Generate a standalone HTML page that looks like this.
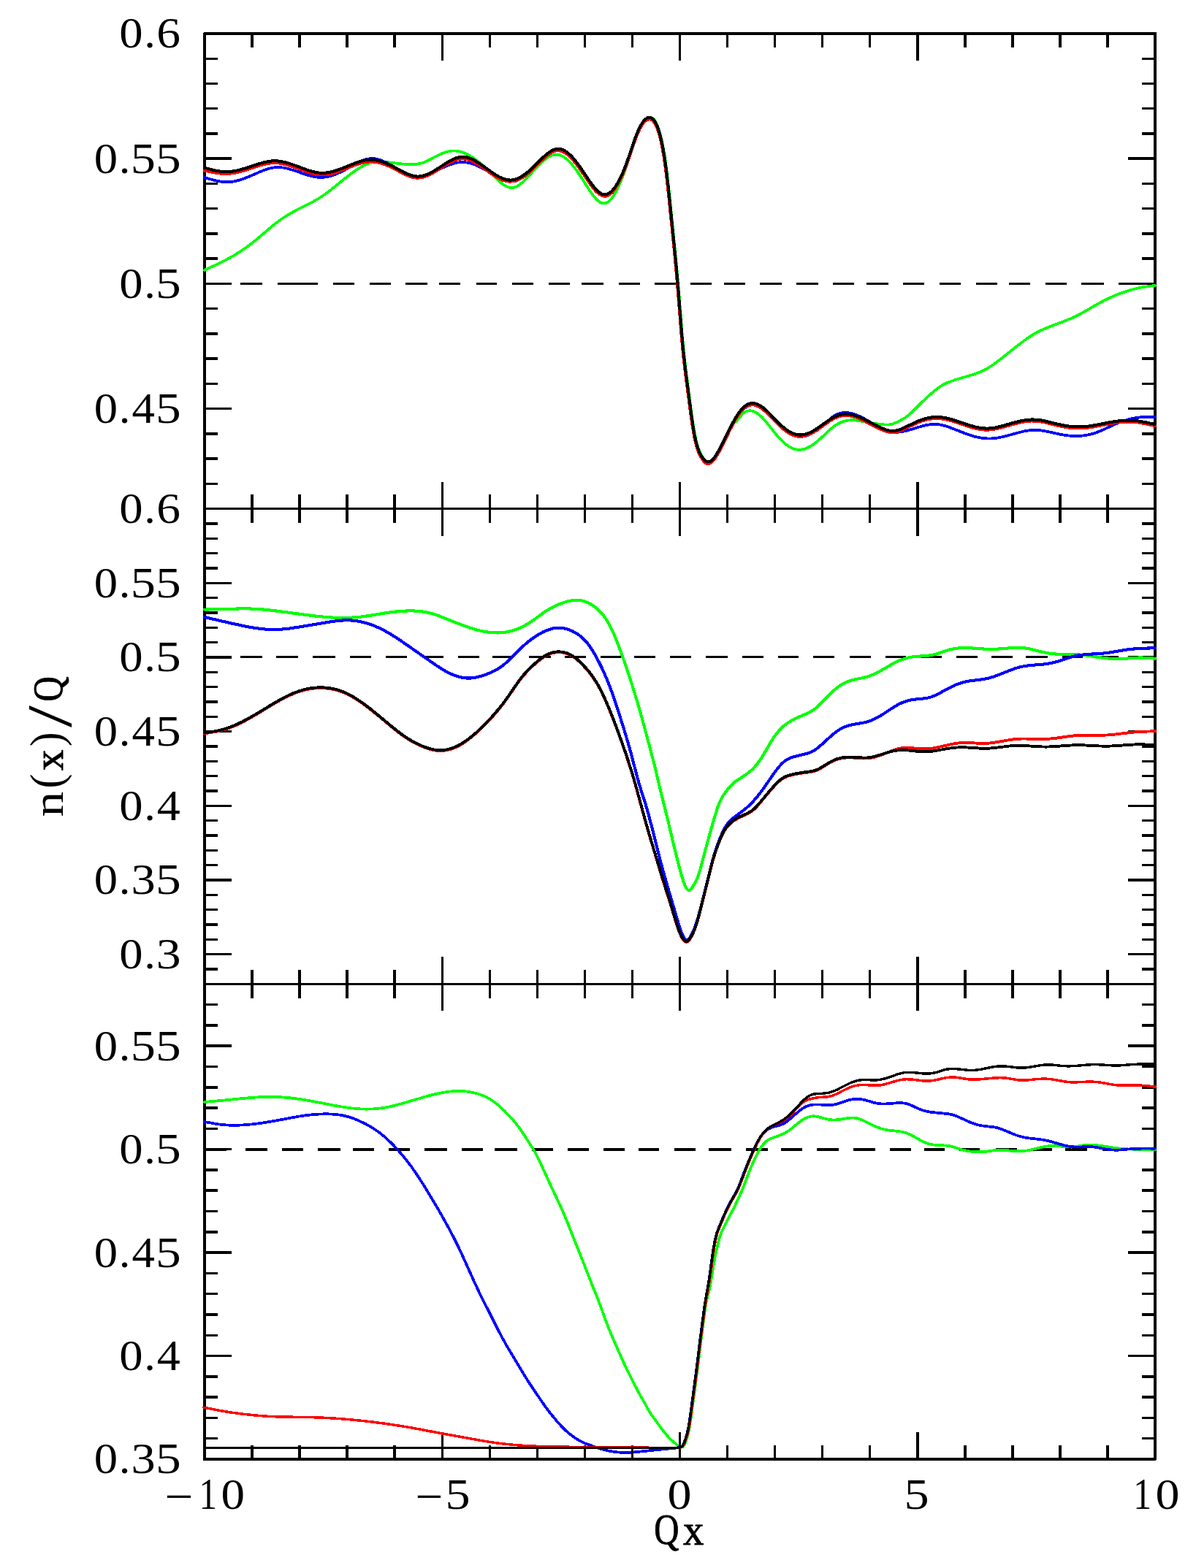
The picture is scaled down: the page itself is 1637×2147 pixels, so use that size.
<!DOCTYPE html>
<html lang="en"><head><meta charset="utf-8"><title>n(x)/Q versus Qx</title>
<style>html,body{margin:0;padding:0;background:#fff;overflow:hidden}svg{display:block}text{font-family:"Liberation Serif","DejaVu Serif",serif;fill:#000}</style></head><body>
<svg width="1637" height="2147" viewBox="0 0 1637 2147">
<rect width="1637" height="2147" fill="#fff"/>
<g fill="none" stroke="#000" shape-rendering="crispEdges">
<path d="M280 46 L317 46 M1544 46 L1581 46 M280 80.25 L298 80.25 M1563 80.25 L1581 80.25 M280 114.49 L298 114.49 M1563 114.49 L1581 114.49 M280 148.74 L298 148.74 M1563 148.74 L1581 148.74 M280 182.98 L298 182.98 M1563 182.98 L1581 182.98 M280 217.23 L317 217.23 M1544 217.23 L1581 217.23 M280 251.47 L298 251.47 M1563 251.47 L1581 251.47 M280 285.72 L298 285.72 M1563 285.72 L1581 285.72 M280 319.96 L298 319.96 M1563 319.96 L1581 319.96 M280 354.21 L298 354.21 M1563 354.21 L1581 354.21 M280 388.46 L317 388.46 M1544 388.46 L1581 388.46 M280 422.7 L298 422.7 M1563 422.7 L1581 422.7 M280 456.95 L298 456.95 M1563 456.95 L1581 456.95 M280 491.19 L298 491.19 M1563 491.19 L1581 491.19 M280 525.44 L298 525.44 M1563 525.44 L1581 525.44 M280 559.68 L317 559.68 M1544 559.68 L1581 559.68 M280 593.93 L298 593.93 M1563 593.93 L1581 593.93 M280 628.18 L298 628.18 M1563 628.18 L1581 628.18 M280 662.42 L298 662.42 M1563 662.42 L1581 662.42 M280 696.67 L298 696.67 M1563 696.67 L1581 696.67 M280 696.67 L317 696.67 M1544 696.67 L1581 696.67 M280 717 L298 717 M1563 717 L1581 717 M280 737.33 L298 737.33 M1563 737.33 L1581 737.33 M280 757.67 L298 757.67 M1563 757.67 L1581 757.67 M280 778 L298 778 M1563 778 L1581 778 M280 798.33 L317 798.33 M1544 798.33 L1581 798.33 M280 818.67 L298 818.67 M1563 818.67 L1581 818.67 M280 839 L298 839 M1563 839 L1581 839 M280 859.33 L298 859.33 M1563 859.33 L1581 859.33 M280 879.67 L298 879.67 M1563 879.67 L1581 879.67 M280 900 L317 900 M1544 900 L1581 900 M280 920.33 L298 920.33 M1563 920.33 L1581 920.33 M280 940.67 L298 940.67 M1563 940.67 L1581 940.67 M280 961 L298 961 M1563 961 L1581 961 M280 981.33 L298 981.33 M1563 981.33 L1581 981.33 M280 1001.67 L317 1001.67 M1544 1001.67 L1581 1001.67 M280 1022 L298 1022 M1563 1022 L1581 1022 M280 1042.33 L298 1042.33 M1563 1042.33 L1581 1042.33 M280 1062.67 L298 1062.67 M1563 1062.67 L1581 1062.67 M280 1083 L298 1083 M1563 1083 L1581 1083 M280 1103.33 L317 1103.33 M1544 1103.33 L1581 1103.33 M280 1123.67 L298 1123.67 M1563 1123.67 L1581 1123.67 M280 1144 L298 1144 M1563 1144 L1581 1144 M280 1164.33 L298 1164.33 M1563 1164.33 L1581 1164.33 M280 1184.67 L298 1184.67 M1563 1184.67 L1581 1184.67 M280 1205 L317 1205 M1544 1205 L1581 1205 M280 1225.33 L298 1225.33 M1563 1225.33 L1581 1225.33 M280 1245.67 L298 1245.67 M1563 1245.67 L1581 1245.67 M280 1266 L298 1266 M1563 1266 L1581 1266 M280 1286.33 L298 1286.33 M1563 1286.33 L1581 1286.33 M280 1306.67 L317 1306.67 M1544 1306.67 L1581 1306.67 M280 1327 L298 1327 M1563 1327 L1581 1327 M280 1347.33 L298 1347.33 M1563 1347.33 L1581 1347.33 M280 1347.33 L298 1347.33 M1563 1347.33 L1581 1347.33 M280 1375.62 L298 1375.62 M1563 1375.62 L1581 1375.62 M280 1403.91 L298 1403.91 M1563 1403.91 L1581 1403.91 M280 1432.2 L317 1432.2 M1544 1432.2 L1581 1432.2 M280 1460.49 L298 1460.49 M1563 1460.49 L1581 1460.49 M280 1488.78 L298 1488.78 M1563 1488.78 L1581 1488.78 M280 1517.07 L298 1517.07 M1563 1517.07 L1581 1517.07 M280 1545.36 L298 1545.36 M1563 1545.36 L1581 1545.36 M280 1573.65 L317 1573.65 M1544 1573.65 L1581 1573.65 M280 1601.94 L298 1601.94 M1563 1601.94 L1581 1601.94 M280 1630.23 L298 1630.23 M1563 1630.23 L1581 1630.23 M280 1658.52 L298 1658.52 M1563 1658.52 L1581 1658.52 M280 1686.81 L298 1686.81 M1563 1686.81 L1581 1686.81 M280 1715.1 L317 1715.1 M1544 1715.1 L1581 1715.1 M280 1743.39 L298 1743.39 M1563 1743.39 L1581 1743.39 M280 1771.68 L298 1771.68 M1563 1771.68 L1581 1771.68 M280 1799.97 L298 1799.97 M1563 1799.97 L1581 1799.97 M280 1828.26 L298 1828.26 M1563 1828.26 L1581 1828.26 M280 1856.55 L317 1856.55 M1544 1856.55 L1581 1856.55 M280 1884.84 L298 1884.84 M1563 1884.84 L1581 1884.84 M280 1913.13 L298 1913.13 M1563 1913.13 L1581 1913.13 M280 1941.42 L298 1941.42 M1563 1941.42 L1581 1941.42 M280 1969.71 L298 1969.71 M1563 1969.71 L1581 1969.71 M280 1998 L317 1998 M1544 1998 L1581 1998 M345.05 46 L345.05 65.3 M410.1 46 L410.1 65.3 M475.15 46 L475.15 65.3 M540.2 46 L540.2 65.3 M605.25 46 L605.25 83 M670.3 46 L670.3 65.3 M735.35 46 L735.35 65.3 M800.4 46 L800.4 65.3 M865.45 46 L865.45 65.3 M930.5 46 L930.5 83 M995.55 46 L995.55 65.3 M1060.6 46 L1060.6 65.3 M1125.65 46 L1125.65 65.3 M1190.7 46 L1190.7 65.3 M1255.75 46 L1255.75 83 M1320.8 46 L1320.8 65.3 M1385.85 46 L1385.85 65.3 M1450.9 46 L1450.9 65.3 M1515.95 46 L1515.95 65.3 M345.05 677.37 L345.05 715.97 M410.1 677.37 L410.1 715.97 M475.15 677.37 L475.15 715.97 M540.2 677.37 L540.2 715.97 M605.25 659.67 L605.25 733.67 M670.3 677.37 L670.3 715.97 M735.35 677.37 L735.35 715.97 M800.4 677.37 L800.4 715.97 M865.45 677.37 L865.45 715.97 M930.5 659.67 L930.5 733.67 M995.55 677.37 L995.55 715.97 M1060.6 677.37 L1060.6 715.97 M1125.65 677.37 L1125.65 715.97 M1190.7 677.37 L1190.7 715.97 M1255.75 659.67 L1255.75 733.67 M1320.8 677.37 L1320.8 715.97 M1385.85 677.37 L1385.85 715.97 M1450.9 677.37 L1450.9 715.97 M1515.95 677.37 L1515.95 715.97 M345.05 1328.03 L345.05 1366.63 M410.1 1328.03 L410.1 1366.63 M475.15 1328.03 L475.15 1366.63 M540.2 1328.03 L540.2 1366.63 M605.25 1310.33 L605.25 1384.33 M670.3 1328.03 L670.3 1366.63 M735.35 1328.03 L735.35 1366.63 M800.4 1328.03 L800.4 1366.63 M865.45 1328.03 L865.45 1366.63 M930.5 1310.33 L930.5 1384.33 M995.55 1328.03 L995.55 1366.63 M1060.6 1328.03 L1060.6 1366.63 M1125.65 1328.03 L1125.65 1366.63 M1190.7 1328.03 L1190.7 1366.63 M1255.75 1310.33 L1255.75 1384.33 M1320.8 1328.03 L1320.8 1366.63 M1385.85 1328.03 L1385.85 1366.63 M1450.9 1328.03 L1450.9 1366.63 M1515.95 1328.03 L1515.95 1366.63 M345.05 1978.7 L345.05 1998 M410.1 1978.7 L410.1 1998 M475.15 1978.7 L475.15 1998 M540.2 1978.7 L540.2 1998 M605.25 1961 L605.25 1998 M670.3 1978.7 L670.3 1998 M735.35 1978.7 L735.35 1998 M800.4 1978.7 L800.4 1998 M865.45 1978.7 L865.45 1998 M930.5 1961 L930.5 1998 M995.55 1978.7 L995.55 1998 M1060.6 1978.7 L1060.6 1998 M1125.65 1978.7 L1125.65 1998 M1190.7 1978.7 L1190.7 1998 M1255.75 1961 L1255.75 1998 M1320.8 1978.7 L1320.8 1998 M1385.85 1978.7 L1385.85 1998 M1450.9 1978.7 L1450.9 1998 M1515.95 1978.7 L1515.95 1998" stroke-width="3.5"/>
<path d="M280 696.67 L1581 696.67 M280 1347.33 L1581 1347.33" stroke-width="3.4"/>
<rect x="280" y="46" width="1301" height="1952" stroke-width="4" stroke-linejoin="round"/>
</g>
<path d="M280 388.3 L309 388.3 M329.3 388.3 L358.7 388.3 M379.7 388.3 L434.5 388.3 M455.5 388.3 L484.9 388.3 M505.9 388.3 L535.3 388.3 M555.4 388.3 L584.5 388.3 M601.4 388.3 L630 388.3 M651.8 388.3 L680.4 388.3 M701.4 388.3 L729.6 388.3 M750.6 388.3 L780 388.3 M796.1 388.3 L825.6 388.3 M846.5 388.3 L876 388.3 M896.1 388.3 L925.2 388.3 M945.3 388.3 L974.3 388.3 M990.5 388.3 L1019.9 388.3 M1039.7 388.3 L1069.9 388.3 M1090 388.3 L1119.5 388.3 M1139.7 388.3 L1169.1 388.3 M1186 388.3 L1215.5 388.3 M1235.6 388.3 L1264.6 388.3 M1286 388.3 L1315 388.3 M1336 388.3 L1364.6 388.3 M1380.7 388.3 L1409.8 388.3 M1431.1 388.3 L1460.2 388.3 M1480.3 388.3 L1510.6 388.3 M1530.7 388.3 L1581 388.3" fill="none" stroke="#000" stroke-width="3.2" shape-rendering="crispEdges"/>
<g fill="none" stroke-linejoin="round" stroke-linecap="round" shape-rendering="crispEdges">
<path d="M280 369.8 L295.75 362.57 L307.25 356.9 L317.5 351.33 L327.25 345.44 L336.25 339.39 L344.75 333.08 L352.5 326.78 L367.75 313.7 L374.25 308.29 L380.75 303.24 L387.25 298.67 L393.75 294.53 L401 290.32 L409 286.04 L428.75 276 L434.75 272.62 L440 269.34 L445.75 265.36 L452 260.65 L472.25 244.28 L479.25 238.8 L485.75 234.07 L491.5 230.3 L497.25 227.03 L502.5 224.59 L507.5 222.83 L512.25 221.74 L515 221.39 L517.75 221.22 L520.75 221.21 L524 221.37 L529.25 221.89 L546.75 224.13 L557 224.98 L564.5 225.1 L570.5 224.68 L573.5 224.2 L576.25 223.57 L579 222.74 L581.75 221.71 L587.25 219.18 L597.5 213.81 L601.75 211.72 L606.25 209.78 L610.5 208.3 L615 207.17 L619.5 206.57 L623.5 206.55 L627.75 207.09 L632.5 208.32 L637.5 210.27 L642.75 212.98 L648.25 216.44 L655 221.46 L662 227.42 L669 234.02 L681.25 246.29 L684.5 249.26 L687.25 251.53 L691 254.13 L694.5 255.9 L696.25 256.51 L697.75 256.87 L699.25 257.07 L700.75 257.09 L702.25 256.93 L704 256.55 L707.25 255.28 L710.75 253.22 L714.5 250.34 L717.75 247.39 L721.25 243.86 L733.5 230.36 L738.5 225.12 L743.5 220.43 L748 216.86 L750.25 215.37 L752.25 214.23 L754.5 213.17 L756.5 212.45 L758.5 211.95 L760.5 211.68 L762.5 211.67 L764.25 211.87 L766.25 212.36 L768.5 213.21 L770.75 214.38 L773 215.84 L775.25 217.57 L777.75 219.8 L780.25 222.33 L782.75 225.12 L787.25 230.75 L792.25 237.76 L796.5 244.22 L805.5 258.48 L809.25 264.07 L813 269.08 L816.25 272.76 L818 274.43 L819.75 275.84 L821.5 276.98 L823 277.71 L824.75 278.26 L826.25 278.46 L827.75 278.38 L829.25 278.02 L831.25 277.1 L833.5 275.49 L835.5 273.57 L837.75 270.89 L840 267.68 L842.25 263.96 L844.5 259.77 L847 254.58 L851.25 244.57 L855.5 233.23 L859 223.01 L866.75 199.27 L870.25 189.28 L873.75 180.54 L877 173.85 L878.75 170.83 L880.75 167.89 L882.75 165.47 L884.75 163.59 L886.75 162.24 L888.75 161.43 L890.5 161.19 L892.25 161.52 L893.75 162.37 L895 163.54 L896.25 165.1 L897.75 167.5 L899 169.95 L900.25 172.87 L901.5 176.27 L902.75 180.17 L905.25 189.63 L907.5 200.24 L909.75 213.12 L911.75 226.76 L914 244.78 L916.25 265.25 L925.75 359.94 L928.75 393.93 L933.75 457.02 L936.5 486.41 L939 507.97 L944.75 551.97 L947.5 572.35 L949.75 587.27 L951.5 597.02 L953.5 605.92 L955.5 612.72 L957.75 618.51 L959.25 621.61 L961 624.74 L962.5 627.04 L964 628.95 L965.5 630.48 L967 631.59 L968.5 632.27 L970 632.5 L971.25 632.35 L972.5 631.9 L973.75 631.17 L975 630.19 L976.25 628.98 L977.75 627.25 L981 622.64 L984 617.62 L987.25 611.63 L991.5 603.21 L1000.5 584.69 L1001.5 582.86 L1002.5 581.37 L1004.25 579.47 L1007.75 576.72 L1009.25 575.28 L1015 568.36 L1017 566.2 L1019.25 564.38 L1021.75 563.07 L1023.5 562.56 L1025.5 562.31 L1027.5 562.36 L1029.5 562.69 L1031.5 563.29 L1033.5 564.15 L1035.5 565.26 L1037.75 566.81 L1041.5 570.04 L1045.5 574.22 L1049.5 578.91 L1059.25 591.05 L1064 596.74 L1068.75 602 L1073 606.16 L1075.5 608.3 L1077.75 610.01 L1080.25 611.65 L1082.5 612.9 L1085 614.02 L1087.25 614.8 L1089.75 615.41 L1092 615.72 L1094 615.81 L1096.25 615.7 L1098.5 615.36 L1100.75 614.83 L1103 614.09 L1105.5 613.06 L1107.75 611.94 L1110.25 610.5 L1114.75 607.44 L1119.5 603.63 L1123.75 599.81 L1135 589.16 L1138.5 586.12 L1141.5 583.76 L1145 581.39 L1148.75 579.31 L1152.25 577.78 L1156 576.56 L1159 575.88 L1162.25 575.43 L1165.5 575.25 L1169 575.34 L1172.25 575.63 L1176 576.15 L1188.75 578.5 L1196 579.69 L1202.5 580.57 L1209 581.3 L1212.75 581.57 L1216 581.56 L1219 581.2 L1221.75 580.52 L1225.75 579.01 L1230.75 576.54 L1238 572.49 L1242 569.73 L1244.5 567.65 L1247.25 565.14 L1261 551.49 L1271.75 541.51 L1276.75 537.12 L1281 533.6 L1284.75 530.75 L1288 528.55 L1290.75 526.92 L1293.75 525.35 L1296.75 523.99 L1300.25 522.59 L1309 519.65 L1328.75 513.77 L1336 511.44 L1343.5 508.51 L1347 506.88 L1350.25 505.16 L1356.5 501.3 L1364 495.95 L1372.25 489.57 L1393 473.08 L1403.5 465.13 L1411.5 459.63 L1415.25 457.33 L1418.75 455.39 L1425 452.34 L1433.25 448.79 L1443.75 444.6 L1461.75 437.78 L1466.75 435.72 L1471 433.8 L1475.75 431.44 L1481 428.61 L1501 417.08 L1510.25 412.02 L1519.5 407.46 L1529 403.39 L1535.5 400.93 L1542 398.72 L1548.25 396.83 L1554.25 395.26 L1559.75 394.05 L1565.5 393.01 L1572 392.04 L1581 390.9" stroke="#00ff00" stroke-width="3.75"/>
<path d="M280 242.9 L287.25 245.14 L292.5 246.61 L297.25 247.75 L301.5 248.55 L305.75 249.08 L309.75 249.31 L313.5 249.23 L317.5 248.83 L321.25 248.19 L325 247.32 L329 246.17 L333.25 244.75 L341.25 241.61 L358 234.36 L362 232.81 L365.75 231.53 L369.5 230.46 L373.25 229.66 L376.75 229.18 L380.25 229.01 L383.75 229.14 L387.25 229.53 L391 230.19 L395 231.14 L402.5 233.4 L419.75 239.33 L424.25 240.65 L428.5 241.68 L432.5 242.4 L436.5 242.82 L440.25 242.89 L444 242.62 L448.25 241.95 L452.75 240.85 L457.5 239.3 L462.5 237.29 L467 235.21 L471.75 232.77 L489.25 223.02 L493 221.19 L496.5 219.7 L500 218.48 L503.25 217.64 L506.5 217.13 L509.5 216.99 L512.5 217.19 L515.75 217.75 L519.25 218.7 L522.75 219.96 L526.5 221.6 L530.75 223.74 L548.25 233.75 L552.25 235.87 L555.75 237.54 L560 239.27 L563.75 240.45 L567.25 241.21 L570.75 241.58 L574 241.54 L577.5 241.12 L581.25 240.28 L585.25 239.02 L592.25 236.16 L605.25 229.95 L610.75 227.48 L616 225.41 L621 223.8 L626 222.65 L630.5 222.09 L634.75 222.04 L639.25 222.52 L643.25 223.35 L647.25 224.53 L651.5 226.12 L655.75 228.01 L659.75 230.02 L664 232.35 L680.25 241.92 L684.25 244 L688 245.69 L691.75 247.06 L695.5 248.02 L699 248.5 L702.25 248.5 L704.25 248.22 L706 247.77 L710.25 246.03 L714.75 243.54 L719.75 240.06 L724 236.62 L728.5 232.57 L741.25 219.92 L745.25 216.12 L749 212.89 L752.25 210.47 L755.5 208.5 L758.75 207.06 L761.75 206.28 L764.75 206.12 L766.5 206.32 L768.5 206.8 L770.25 207.44 L772.25 208.4 L774.25 209.59 L776.25 211.01 L778.25 212.63 L780.5 214.69 L783 217.24 L785.5 220.04 L790.75 226.62 L796.25 234.32 L808.5 252.5 L812 257.2 L815.25 261.07 L817.25 263.15 L819.25 264.96 L821 266.29 L822.75 267.36 L824.5 268.16 L826 268.59 L827.75 268.8 L829.25 268.71 L831.5 268.11 L833.75 266.97 L836 265.3 L838.5 262.85 L840.75 260.12 L843.25 256.54 L845.75 252.38 L848.25 247.68 L852.5 238.51 L856.75 227.94 L860.5 217.53 L868 195.43 L871.5 185.95 L874.5 178.93 L877.5 173.16 L879.25 170.38 L880.75 168.35 L882.5 166.4 L884 165.09 L885.75 163.98 L887.25 163.41 L889 163.18 L890.5 163.39 L892 164 L893.25 164.86 L894.5 166.07 L895.75 167.65 L897 169.63 L898.25 172.04 L900.5 177.53 L902.75 184.63 L905 193.54 L907 203.15 L909 214.59 L911.75 233.71 L914.25 254.66 L917.25 283.15 L923.75 347.83 L927.75 391.61 L933.25 460.64 L936 489.61 L938.75 513.17 L946.25 570.1 L948.5 585.6 L950.5 597.29 L952.5 606.7 L954.5 613.92 L955.75 617.51 L957 620.57 L958.5 623.76 L960 626.49 L961.75 629.21 L963.25 631.17 L965 632.96 L966.5 634.05 L968 634.7 L969.5 634.9 L971 634.65 L972.5 633.98 L974 632.93 L975.75 631.27 L977.5 629.2 L979.5 626.42 L982.75 621.16 L986.75 613.84 L999.25 588.55 L1004 579.41 L1008.5 571.7 L1010.75 568.31 L1012.75 565.61 L1014.75 563.19 L1016.75 561.07 L1018.75 559.24 L1020.75 557.7 L1022.75 556.46 L1024.75 555.5 L1026.75 554.84 L1028.75 554.48 L1030.5 554.4 L1032.25 554.55 L1034 554.9 L1035.75 555.45 L1037.5 556.19 L1039.5 557.23 L1041.5 558.47 L1043.75 560.07 L1047.25 562.95 L1051.25 566.66 L1064.5 580.26 L1069.25 584.88 L1073.75 588.78 L1078.25 592.08 L1082.5 594.59 L1086.5 596.35 L1090.5 597.49 L1092.5 597.81 L1094.5 597.95 L1096.5 597.93 L1098.5 597.74 L1102.75 596.85 L1107.25 595.25 L1112 592.95 L1118 589.35 L1122.25 586.36 L1126.25 582.96 L1136.25 573.71 L1139.25 571.24 L1141.75 569.46 L1145 567.62 L1148.25 566.31 L1151.75 565.42 L1155.25 565.01 L1159.25 565.07 L1163.5 565.66 L1168 566.8 L1172.75 568.48 L1177.25 570.45 L1182 572.82 L1199.5 582.69 L1206.75 586.42 L1210.5 588.08 L1214 589.4 L1217.5 590.46 L1220.75 591.17 L1224 591.6 L1227.5 591.73 L1231.25 591.53 L1235 591.03 L1238.75 590.29 L1243 589.23 L1259.5 584.2 L1266.75 582.34 L1270.75 581.6 L1274.75 581.11 L1278.5 580.92 L1282 581.01 L1285.25 581.35 L1288.75 581.97 L1292.25 582.8 L1296.25 583.98 L1303.25 586.47 L1321.5 593.71 L1327.25 595.71 L1332.75 597.37 L1338 598.67 L1343.25 599.66 L1348.25 600.26 L1353 600.5 L1356.5 600.44 L1360.25 600.17 L1364 599.71 L1368 599.04 L1376.75 597.08 L1393.75 592.41 L1400.75 590.7 L1408.25 589.37 L1411.5 589.01 L1414.75 588.82 L1417.75 588.82 L1421 588.98 L1427.75 589.8 L1434.25 591.03 L1451.5 594.8 L1457 595.75 L1462.25 596.44 L1467.75 596.9 L1473 597.04 L1478.25 596.86 L1483.25 596.37 L1488 595.62 L1492.5 594.64 L1497 593.42 L1501.5 591.93 L1509.25 588.8 L1524.25 581.79 L1530.75 578.98 L1538.5 576.1 L1545.75 573.95 L1549.75 573.01 L1553.75 572.26 L1557.75 571.69 L1561.75 571.29 L1570 570.98 L1581 571.2" stroke="#0000ff" stroke-width="3.8"/>
<path d="M280 233.64 L291.5 236.07 L296.25 236.87 L300.5 237.42 L304.5 237.76 L308.5 237.9 L312.25 237.84 L316 237.56 L319.5 237.09 L323 236.46 L330.5 234.66 L337.75 232.48 L354 227.11 L362 224.91 L366.25 224.02 L370 223.46 L373.75 223.15 L377.25 223.13 L381 223.4 L385 223.96 L389.25 224.83 L393.75 226.01 L402.25 228.77 L420 235.32 L424.25 236.69 L428.25 237.79 L432.25 238.65 L436 239.19 L439.5 239.43 L443.5 239.38 L447.25 239.04 L451.25 238.38 L455.25 237.46 L459.75 236.16 L468 233.24 L485.75 226.12 L490 224.62 L494 223.4 L497.75 222.47 L501.5 221.81 L505 221.46 L508.5 221.41 L512.5 221.74 L516.5 222.39 L520.75 223.4 L525 224.72 L530.5 226.81 L536.5 229.5 L539.5 231 L552 237.77 L555.75 239.59 L559 240.96 L562.75 242.26 L566.25 243.11 L569.5 243.54 L573 243.58 L576.5 243.19 L580 242.39 L583.75 241.13 L588 239.26 L591.25 237.58 L595 235.43 L607.5 227.56 L612.75 224.39 L617 222.06 L620.75 220.29 L624.25 218.94 L627.5 218.01 L630.75 217.44 L633.75 217.31 L637.5 217.75 L641.25 218.72 L645.25 220.26 L649.5 222.37 L653.25 224.57 L657.5 227.33 L671 236.93 L675.75 240.15 L680.25 242.92 L684.5 245.15 L688.5 246.83 L692.5 248 L696 248.53 L699.75 248.57 L703.5 248.04 L707.5 246.84 L711.75 244.92 L716 242.41 L721 238.82 L726.25 234.42 L731.5 229.54 L743.75 217.49 L747.25 214.36 L750.5 211.77 L754.5 209.12 L758 207.42 L761.25 206.47 L763 206.24 L764.5 206.22 L766.25 206.45 L768.25 206.97 L770 207.63 L772 208.61 L774 209.83 L776 211.26 L778 212.9 L780.25 214.98 L782.75 217.54 L785.25 220.35 L790.5 226.94 L795.75 234.27 L808 252.37 L811.5 257.05 L814.75 260.91 L816.75 262.98 L818.75 264.78 L820.5 266.11 L822.25 267.18 L824 267.97 L825.5 268.41 L827 268.61 L829 268.55 L831 268.1 L833 267.22 L835 265.92 L837 264.21 L839 262.11 L841 259.63 L843 256.77 L845.25 253.12 L847.5 249.02 L850 243.97 L852.5 238.42 L855 232.38 L859.5 220.36 L869.75 190.59 L872.75 182.93 L875.5 176.94 L877.5 173.23 L879.25 170.46 L881 168.13 L882.75 166.25 L884.75 164.65 L886.5 163.75 L888.5 163.29 L890 163.45 L891.5 164.02 L892.75 164.84 L894 165.99 L895.25 167.5 L896.5 169.4 L897.75 171.73 L899 174.49 L900 177.08 L902.25 184.2 L904.5 193.1 L906.5 202.7 L908.5 214.13 L911.25 233.2 L914 256.48 L916.75 282.73 L923.75 352.63 L926.75 385.02 L932.5 457.37 L934 474.46 L935.25 487.04 L938.25 512.81 L945.75 569.73 L948 585.24 L950 597.05 L951.75 605.36 L953.75 612.76 L955 616.48 L956.25 619.63 L958 623.4 L959.75 626.69 L961.5 629.48 L963 631.45 L964.5 633 L966 634.13 L967.25 634.73 L968.5 635 L970 634.97 L971.5 634.57 L972.75 633.93 L974.25 632.82 L975.75 631.36 L977.25 629.61 L979 627.23 L980.75 624.56 L984.75 617.64 L989 609.46 L998.5 590.01 L1002.5 582.14 L1006.75 574.46 L1010.5 568.54 L1013 565.15 L1015.25 562.48 L1017.75 559.95 L1020 558.07 L1022.5 556.41 L1024.75 555.31 L1027 554.59 L1029.25 554.23 L1030.75 554.23 L1032.5 554.47 L1034.25 554.91 L1036 555.54 L1037.75 556.35 L1039.75 557.47 L1043.75 560.25 L1047.25 563.19 L1051 566.7 L1063.75 579.8 L1068.5 584.45 L1073 588.38 L1077.25 591.55 L1081.5 594.13 L1085.5 595.97 L1089.5 597.18 L1091.5 597.55 L1093.5 597.74 L1097.25 597.67 L1100.75 597.14 L1104.5 596.08 L1108.25 594.59 L1112.5 592.43 L1117.25 589.56 L1121.75 586.5 L1134 577.71 L1137.75 575.29 L1141 573.44 L1145.25 571.47 L1149.25 570.13 L1153.25 569.27 L1157.25 568.91 L1160.75 569.04 L1164.5 569.58 L1168.5 570.54 L1172.5 571.84 L1176.75 573.53 L1181.5 575.7 L1199.5 585.01 L1207 588.49 L1211 590.04 L1214.5 591.1 L1217.75 591.77 L1220.75 592.04 L1223.5 591.99 L1226 591.67 L1229 590.95 L1232 589.95 L1237.25 587.71 L1254.25 579.58 L1259.25 577.5 L1263.75 575.92 L1268.25 574.68 L1272.5 573.81 L1276.75 573.24 L1281 572.99 L1284.5 573.04 L1288.25 573.35 L1292.25 573.93 L1296.25 574.75 L1300.5 575.83 L1305 577.16 L1323.75 583.43 L1332 585.88 L1336.5 586.96 L1340.75 587.78 L1344.75 588.31 L1348.75 588.59 L1352.25 588.6 L1355.5 588.42 L1359 588.02 L1362.5 587.44 L1370.25 585.66 L1387.5 580.73 L1395.75 578.66 L1400.25 577.76 L1404.5 577.09 L1408.5 576.67 L1412.25 576.47 L1418 576.65 L1424.5 577.46 L1431.5 578.85 L1447.5 582.77 L1455 584.35 L1464 585.73 L1472.25 586.38 L1476.5 586.45 L1480.75 586.36 L1485 586.07 L1489.5 585.58 L1498.75 584.15 L1517 580.62 L1525.25 579.2 L1534 578.09 L1541.75 577.58 L1545.5 577.55 L1549.75 577.71 L1554 578.06 L1558.25 578.59 L1567.75 580.22 L1581 583.11" stroke="#ff0000" stroke-width="4"/>
<path d="M280 229.7 L291.75 232.79 L296.25 233.76 L300.25 234.45 L304.25 234.94 L308 235.17 L311.5 235.17 L315.25 234.93 L318.75 234.5 L322.25 233.9 L330 232.07 L337.5 229.82 L354 224.34 L362.25 222.06 L366.5 221.18 L370.5 220.61 L374.25 220.33 L378 220.34 L381.75 220.63 L385.75 221.22 L390 222.12 L394.5 223.33 L402.75 226.05 L420.25 232.59 L424.5 233.99 L428.5 235.11 L432.5 236 L436.25 236.56 L439.75 236.82 L443.25 236.79 L447 236.46 L451 235.82 L455.25 234.85 L459.75 233.54 L468 230.6 L485.75 223.44 L490.25 221.85 L494.25 220.64 L498.25 219.67 L502 219.04 L505.5 218.73 L509 218.72 L512.75 219.04 L516.5 219.68 L520.5 220.67 L524.75 222.04 L529.5 223.9 L534.75 226.31 L539.75 228.87 L552 235.51 L555.5 237.24 L558.75 238.66 L562.75 240.1 L566.25 241.01 L569.75 241.52 L573 241.58 L576.5 241.19 L580.25 240.32 L584.25 238.93 L588.5 237.02 L592.25 235.03 L596.5 232.52 L613.5 221.61 L617.5 219.36 L621.25 217.55 L624.75 216.2 L628 215.3 L631.25 214.79 L634.25 214.72 L638 215.17 L641.75 216.16 L645.75 217.73 L650 219.89 L653.75 222.13 L658 224.94 L671.5 234.7 L676.25 237.99 L680.75 240.8 L684.75 242.95 L688.75 244.69 L692.5 245.86 L696 246.48 L699.5 246.58 L703.25 246.09 L707.25 244.91 L711.5 243.01 L715.75 240.5 L720.75 236.89 L726 232.46 L731.25 227.54 L743.75 215.11 L747.25 211.95 L750.5 209.32 L754.5 206.65 L756.5 205.59 L758.25 204.84 L760 204.26 L761.75 203.88 L763.5 203.71 L765 203.73 L766.75 203.96 L768.75 204.48 L770.5 205.14 L772.5 206.13 L774.5 207.36 L776.5 208.8 L778.5 210.45 L780.75 212.53 L783.25 215.1 L785.75 217.93 L791 224.56 L796.5 232.29 L808.25 249.74 L811.75 254.48 L815 258.39 L817 260.5 L819 262.35 L820.75 263.71 L822.5 264.83 L824.25 265.66 L825.75 266.14 L827.5 266.4 L829 266.35 L831.25 265.81 L833.5 264.72 L835.75 263.11 L838.25 260.72 L840.5 258.05 L843 254.52 L845.5 250.42 L848 245.78 L852.25 236.69 L856.75 225.54 L860.5 215.13 L868 193.04 L871.5 183.55 L874.5 176.53 L877.5 170.76 L879.25 167.98 L880.75 165.95 L882.5 164 L884 162.69 L885.75 161.58 L887.25 161.01 L889 160.78 L890.5 160.99 L892 161.6 L893.25 162.46 L894.5 163.67 L895.75 165.25 L897 167.23 L898.25 169.63 L900.5 175.12 L902.75 182.24 L905 191.14 L907 200.76 L909 212.19 L911.75 231.27 L914.25 252.27 L917.25 280.75 L924 348.1 L927.25 383.1 L933 455.29 L934.25 469.65 L935.75 484.94 L938.75 510.76 L946 565.87 L948.25 581.56 L950.25 593.63 L952.25 603.28 L954.25 610.71 L955.5 614.43 L956.75 617.6 L958.25 620.83 L960 624.07 L961.75 626.82 L963.25 628.78 L964.75 630.34 L966.25 631.5 L967.75 632.22 L969 632.48 L970.25 632.43 L971.5 632.07 L972.75 631.43 L974.25 630.32 L975.75 628.87 L977.25 627.12 L979 624.75 L980.75 622.09 L984.75 615.19 L989.25 606.53 L998.25 588.15 L1002.25 580.28 L1006.5 572.59 L1010.5 566.27 L1013 562.89 L1015.25 560.24 L1017.5 557.95 L1019.75 556.04 L1022.25 554.34 L1024.5 553.21 L1026.75 552.44 L1029 552.06 L1030.75 552.01 L1032.5 552.19 L1034.25 552.57 L1036 553.15 L1037.75 553.91 L1039.75 554.97 L1041.75 556.24 L1044 557.86 L1047.5 560.77 L1051.25 564.26 L1064.25 577.6 L1069 582.25 L1073.5 586.18 L1078 589.52 L1082.25 592.06 L1086.25 593.86 L1090.25 595.03 L1094 595.53 L1097.25 595.48 L1100.75 594.95 L1104.5 593.9 L1108.25 592.41 L1112.5 590.28 L1117.25 587.43 L1121.75 584.39 L1134 575.65 L1137.75 573.25 L1141 571.41 L1145.25 569.45 L1149.25 568.12 L1153.25 567.27 L1157.25 566.91 L1161 567.02 L1164.75 567.54 L1168.75 568.47 L1173 569.84 L1177.25 571.53 L1182 573.7 L1200 583.01 L1207.5 586.49 L1211.5 588.04 L1215 589.1 L1218.25 589.76 L1221.25 590.03 L1223.75 589.97 L1226.5 589.57 L1229.25 588.88 L1232.25 587.86 L1237.25 585.71 L1254.25 577.58 L1259 575.6 L1263.5 574 L1268 572.74 L1272.25 571.85 L1276.5 571.27 L1280.75 571 L1284.5 571.02 L1288.25 571.29 L1292.25 571.85 L1296.5 572.7 L1300.75 573.77 L1305.5 575.16 L1324.25 581.43 L1332.75 583.94 L1337.25 585.02 L1341.5 585.82 L1345.5 586.33 L1349.25 586.58 L1352.5 586.59 L1355.75 586.4 L1359.25 585.99 L1362.75 585.39 L1370.5 583.59 L1387.5 578.73 L1395.75 576.66 L1400.25 575.76 L1404.5 575.09 L1408.5 574.67 L1412.25 574.47 L1418.25 574.63 L1424.75 575.42 L1432 576.85 L1448 580.77 L1455.5 582.35 L1464.5 583.72 L1472.75 584.38 L1477 584.45 L1481 584.35 L1485.25 584.05 L1489.75 583.55 L1498.75 582.15 L1517 578.62 L1525.25 577.2 L1534 576.09 L1541.75 575.58 L1546 575.55 L1550 575.7 L1554.25 576.04 L1558.5 576.55 L1568 578.18 L1581 581" stroke="#000000" stroke-width="4.05"/>
</g>
<path d="M280 899.2 L309 899.2 M329.3 899.2 L358.7 899.2 M378 899.2 L408.3 899.2 M428.4 899.2 L458.7 899.2 M478.8 899.2 L507.9 899.2 M528 899.2 L557 899.2 M578.4 899.2 L606.7 899.2 M626.8 899.2 L655.8 899.2 M674.4 899.2 L703.4 899.2 M723.6 899.2 L753.8 899.2 M773.2 899.2 L802.2 899.2 M822.4 899.2 L850.6 899.2 M867.9 899.2 L896.9 899.2 M917.1 899.2 L946 899.2 M966.3 899.2 L995.7 899.2 M1015.9 899.2 L1044.9 899.2 M1065 899.2 L1093.3 899.2 M1112.6 899.2 L1141.7 899.2 M1163 899.2 L1192 899.2 M1212.2 899.2 L1240.4 899.2 M1260.6 899.2 L1288.8 899.2 M1309 899.2 L1338 899.2 M1357.4 899.2 L1385.6 899.2 M1403.7 899.2 L1434 899.2 M1454 899.2 L1482 899.2 M1502.5 899.2 L1530.7 899.2 M1553 899.2 L1581 899.2" fill="none" stroke="#000" stroke-width="3.2" shape-rendering="crispEdges"/>
<g fill="none" stroke-linejoin="round" stroke-linecap="round" shape-rendering="crispEdges">
<path d="M280 834.6 L329 833.4 L341.25 833.45 L352 833.88 L362.25 834.69 L374.25 836 L421 842.22 L436.75 844.09 L445 844.88 L452.5 845.43 L459.75 845.79 L466.75 845.95 L473.75 845.89 L480.5 845.64 L487.5 845.17 L494.25 844.52 L504.75 843.1 L530.75 838.88 L538.5 837.86 L545.75 837.12 L553 836.62 L559.75 836.41 L566.25 836.46 L572.25 836.78 L578.25 837.43 L583.75 838.35 L589 839.55 L594.75 841.23 L604.5 844.71 L625 852.93 L634.75 856.66 L644 859.87 L652.25 862.34 L660 864.24 L667.5 865.58 L674.5 866.32 L681.25 866.5 L685.5 866.32 L689.5 865.93 L693.5 865.33 L697.5 864.51 L701.5 863.47 L705.5 862.21 L709.5 860.72 L713.25 859.1 L719.25 856.06 L725 852.6 L730.25 848.99 L743.75 839.13 L748.25 836.15 L752.5 833.57 L757.75 830.71 L762.75 828.33 L767.75 826.29 L772.75 824.58 L778.25 823.1 L783.25 822.14 L787.75 821.7 L791.75 821.76 L796 822.36 L800.25 823.5 L804.5 825.18 L808.75 827.38 L812.25 829.61 L815.5 832.05 L818.75 834.87 L821.75 837.84 L824.5 840.94 L827.25 844.47 L830 848.48 L832.5 852.6 L835 857.21 L837.5 862.28 L840.25 868.33 L843 874.83 L849.25 890.96 L856 910.02 L864.75 936.5 L872.25 960.93 L879.5 986.46 L890 1025.26 L897.25 1053.56 L905.5 1088.72 L913.75 1121.52 L923.75 1163.81 L928.5 1182.54 L932 1195.59 L935.25 1206.33 L936.75 1210.52 L938 1213.48 L939.25 1215.87 L940.5 1217.62 L941.75 1218.68 L942.75 1219 L943.75 1218.83 L945 1218.03 L946.25 1216.72 L948 1214.34 L950.25 1210.84 L952 1207.71 L953.5 1204.58 L955 1200.93 L956.75 1195.88 L958.5 1190.05 L966.75 1159.1 L971.75 1140.89 L977.75 1119.99 L981.75 1107.04 L984.25 1100.09 L986.75 1094.51 L989.5 1089.73 L993.75 1083.74 L996.5 1080.21 L999.25 1076.97 L1001.5 1074.6 L1004 1072.29 L1006.5 1070.25 L1009.25 1068.23 L1021.25 1060.24 L1025.25 1057.39 L1029.5 1053.73 L1033.5 1049.54 L1038 1043.94 L1042.25 1037.77 L1046 1031.64 L1055 1016.19 L1059.75 1008.81 L1062.5 1005.05 L1065.25 1001.66 L1068.25 998.35 L1071.25 995.41 L1074.25 992.81 L1077.25 990.52 L1080.5 988.34 L1084 986.27 L1087.5 984.45 L1091.25 982.69 L1106.25 976.28 L1110 974.28 L1113.25 972.17 L1117 969.24 L1121.25 965.41 L1136.5 950.03 L1143 943.96 L1146.25 941.27 L1149.5 938.88 L1152.5 936.98 L1155.75 935.22 L1160.25 933.23 L1165.25 931.54 L1170.25 930.27 L1180.25 928.25 L1184.5 927.27 L1189 925.94 L1193.75 924.18 L1198.75 921.97 L1203.75 919.43 L1219.5 910.22 L1225.5 906.96 L1232 903.97 L1238.25 901.73 L1243.25 900.45 L1249 899.49 L1254.5 898.91 L1268.5 897.88 L1272.5 897.42 L1276.25 896.8 L1279.75 896.02 L1283 895.09 L1295 890.89 L1299.75 889.46 L1305.75 888.19 L1312.25 887.41 L1318.25 887.13 L1325 887.2 L1331.5 887.53 L1348.25 888.67 L1357.75 888.93 L1366.25 888.58 L1386.75 886.9 L1392.25 886.73 L1397.25 886.84 L1402.25 887.28 L1407.5 888.14 L1412.5 889.24 L1428.5 893.17 L1434 894.26 L1438.75 894.97 L1442.75 895.37 L1447.25 895.64 L1467.25 895.92 L1478.25 896.56 L1488.25 897.63 L1508.75 900.65 L1518.25 901.69 L1526.25 902.12 L1534 902.11 L1540 901.8 L1553.75 900.7 L1560.75 900.47 L1569.25 900.75 L1581 901.7" stroke="#00ff00" stroke-width="4.1"/>
<path d="M280 845 L321.5 854.56 L338.75 858.14 L347.5 859.65 L355.75 860.8 L363.25 861.55 L370.5 861.95 L376.75 862.01 L382.75 861.8 L389.25 861.29 L396.5 860.47 L412.75 858.02 L452.25 851.36 L459.5 850.34 L466 849.66 L474 849.28 L481.25 849.5 L488.5 850.31 L496 851.75 L500.5 852.91 L505 854.29 L509.5 855.88 L514 857.67 L518.5 859.66 L523.25 861.97 L528 864.48 L532.75 867.19 L541 872.3 L550.5 878.61 L597.75 911.52 L605 916.17 L611.5 919.91 L615.25 921.81 L619 923.52 L622.5 924.91 L626 926.1 L629.5 927.07 L632.75 927.78 L636.25 928.3 L639.5 928.56 L644 928.54 L648.5 928.09 L653.25 927.21 L658.5 925.81 L664.5 923.78 L671.25 921.06 L676.75 918.48 L681.5 915.84 L684.5 913.93 L687.25 911.99 L690 909.83 L692.75 907.46 L698.25 902.26 L708.5 891.86 L713 887.46 L718.5 882.48 L724 877.93 L730.5 873.1 L737 868.86 L743 865.51 L748.5 863.03 L754 861.19 L756.75 860.53 L759.25 860.09 L762 859.78 L764.5 859.67 L767.25 859.74 L769.75 859.99 L772.25 860.41 L775 861.06 L777.5 861.82 L780.25 862.84 L783 864.04 L785.75 865.43 L791 868.57 L794 870.74 L797 873.25 L799.75 875.9 L802.5 878.93 L805.25 882.36 L808 886.2 L810.75 890.42 L813.75 895.4 L817 901.22 L820.5 907.92 L823.75 914.54 L826.75 921.02 L832.5 934.6 L838.25 949.9 L843 963.74 L848.5 980.71 L855.25 1002.36 L860.25 1019.21 L864.25 1033.61 L871 1059.57 L874 1070.59 L876.75 1079.71 L882.75 1098.04 L887 1112.73 L891.5 1129.87 L902 1171.67 L907.5 1192.18 L911.75 1207.12 L927.5 1260.86 L931.5 1273.39 L933 1277.49 L934.5 1281.06 L936 1283.96 L937.25 1285.75 L938.5 1286.9 L939 1287.16 L939.75 1287.33 L941 1287.04 L942.5 1285.89 L944 1284.02 L945.5 1281.62 L947.5 1277.88 L949.5 1273.6 L951.25 1269.32 L953 1264.45 L955.25 1257.21 L958 1247.14 L966.5 1213.67 L973.5 1185.21 L977.25 1171.45 L980.75 1160.54 L984.75 1149.67 L988.5 1140.75 L991.75 1134.27 L993.75 1130.95 L995.75 1128.12 L998 1125.41 L1000.25 1123.11 L1005.25 1118.85 L1016 1110.84 L1021.25 1106.63 L1026.5 1101.85 L1031.75 1096.38 L1036.75 1090.53 L1042.25 1083.4 L1047.25 1076.43 L1058.5 1060.09 L1064.5 1052.07 L1067.75 1048.21 L1070.75 1045.08 L1073.75 1042.43 L1076.5 1040.48 L1080 1038.59 L1083.75 1037.13 L1087.75 1035.97 L1105 1031.68 L1109.25 1030.19 L1113 1028.36 L1117 1025.76 L1121.25 1022.43 L1125.25 1018.93 L1136.5 1008.66 L1143 1003.24 L1146.25 1000.83 L1149.25 998.84 L1152 997.25 L1155 995.78 L1159 994.23 L1163.5 992.92 L1168.5 991.85 L1178.5 990.2 L1182.75 989.37 L1187 988.28 L1191.5 986.75 L1197.5 984.17 L1203.5 981.01 L1209.25 977.52 L1220.5 970.05 L1225.25 967.04 L1230.25 964.23 L1234.75 962.14 L1240.5 960.09 L1246.75 958.54 L1252.75 957.59 L1263 956.6 L1267 956.09 L1271.25 955.28 L1275 954.21 L1278.75 952.77 L1283 950.78 L1297.5 942.83 L1303.25 939.94 L1309.75 937.16 L1316 935 L1320.75 933.7 L1325.5 932.72 L1330.5 931.97 L1345.5 930.12 L1350 929.31 L1354.5 928.22 L1359.5 926.72 L1365 924.79 L1382 918.05 L1387.5 915.99 L1392.5 914.34 L1397 913.13 L1401.5 912.21 L1406.5 911.47 L1412 910.89 L1428.5 909.49 L1433.75 908.82 L1438.5 908 L1442.75 907.04 L1447 905.86 L1461.25 901.18 L1466 899.74 L1471 898.46 L1476 897.44 L1481.75 896.55 L1487.5 895.93 L1506.25 894.91 L1513.5 894.26 L1520.75 893.22 L1538.75 890.09 L1544.75 889.26 L1550.75 888.6 L1557.25 888.06 L1563.75 887.71 L1581 887.3" stroke="#0000ff" stroke-width="4.1"/>
<path d="M280 1004.4 L294.25 1002 L299.5 1000.91 L304.5 999.69 L309.25 998.33 L313.75 996.83 L318.5 995.01 L323.25 992.99 L332.25 988.67 L342.5 983.12 L352 977.56 L374.25 964.1 L385.25 957.84 L390.75 954.94 L395.75 952.5 L400.5 950.38 L405 948.57 L410 946.82 L415 945.34 L420 944.13 L425 943.2 L430 942.56 L435 942.19 L440 942.1 L444.75 942.29 L450 942.81 L455.25 943.68 L460.25 944.85 L465.25 946.36 L470.25 948.23 L475 950.35 L480 952.92 L485.25 955.96 L490 958.97 L495 962.38 L500.25 966.19 L505.75 970.39 L516.5 979.04 L538.25 997.22 L548.5 1005.23 L553.75 1008.97 L559 1012.4 L564.25 1015.51 L569.75 1018.45 L576 1021.39 L582.25 1023.92 L588 1025.82 L593.25 1027.12 L598.25 1027.88 L603 1028.11 L607.75 1027.82 L612.5 1027.03 L617.75 1025.58 L623.25 1023.46 L628.75 1020.73 L634.5 1017.27 L640.5 1013.08 L646.75 1008.15 L653.5 1002.29 L660.25 995.93 L666.5 989.62 L673 982.62 L679.25 975.48 L685 968.47 L689.5 962.65 L694 956.49 L709.5 934 L713 929.35 L716.5 925.07 L721.25 919.75 L726.5 914.44 L732.5 908.94 L738.5 903.9 L743.75 900.05 L746.25 898.47 L748.75 897.08 L751 896.01 L753.5 895.03 L755.75 894.32 L758.25 893.74 L760.75 893.35 L763.25 893.16 L765.75 893.16 L768.5 893.37 L771 893.76 L773.5 894.34 L776 895.12 L778.5 896.1 L782.25 897.99 L785.75 900.2 L789.5 903.04 L793.25 906.33 L797.5 910.53 L801.75 915.18 L806.25 920.52 L810.25 925.73 L813.25 930.02 L816.25 934.7 L819 939.4 L821.75 944.52 L824.75 950.56 L827.75 957.02 L834.5 972.82 L841.5 990.6 L849.25 1011.57 L856.75 1032.95 L863 1052.09 L866.5 1063.6 L870.5 1077.49 L883.25 1124.29 L888.5 1142.69 L906.75 1203.35 L917.25 1236.52 L924.25 1259.65 L926.75 1267.54 L928.5 1272.62 L930.25 1277.23 L932 1281.27 L933.5 1284.22 L935 1286.65 L936.5 1288.46 L938 1289.58 L939.25 1289.91 L940.5 1289.67 L942 1288.69 L943.5 1287.06 L945.25 1284.5 L947.25 1280.89 L949 1277.22 L950.75 1273.01 L952.5 1268.2 L954.75 1261.04 L957.5 1250.97 L973 1188.66 L975 1181 L977 1173.97 L980.5 1163.19 L984.5 1152.51 L988.25 1143.82 L990 1140.34 L991.5 1137.7 L994 1133.97 L996.75 1130.62 L1000.25 1127.14 L1003.75 1124.31 L1007 1122.14 L1010.5 1120.17 L1021.5 1115.06 L1025.25 1113.12 L1028.75 1110.89 L1032 1108.29 L1035.25 1105.16 L1038.75 1101.35 L1054.75 1082.16 L1058.75 1077.59 L1062.25 1073.84 L1065.75 1070.44 L1069 1067.72 L1072 1065.67 L1075.25 1063.96 L1077.75 1062.95 L1080.25 1062.14 L1087 1060.52 L1096.25 1058.83 L1109.5 1057.05 L1113 1056.33 L1116 1055.46 L1119.25 1054.19 L1122.75 1052.41 L1134.25 1045.31 L1138.75 1042.82 L1144 1040.53 L1146.75 1039.59 L1149.5 1038.83 L1154.75 1037.83 L1160.25 1037.41 L1166.25 1037.46 L1178 1038.17 L1183 1038.33 L1188.25 1038.16 L1192.75 1037.62 L1197.75 1036.53 L1203.5 1034.76 L1208.75 1032.8 L1220 1028.24 L1225.25 1026.37 L1230 1025.07 L1234.25 1024.34 L1238.5 1024.01 L1243 1023.99 L1248 1024.25 L1261.75 1025.33 L1266 1025.44 L1270 1025.3 L1274.75 1024.82 L1279.75 1024.03 L1285.5 1022.85 L1303.5 1018.72 L1309.25 1017.73 L1314.25 1017.16 L1318.25 1016.95 L1322.75 1016.93 L1342.5 1017.85 L1347.25 1017.89 L1351.5 1017.75 L1355.75 1017.39 L1360.5 1016.79 L1382.5 1012.98 L1387.75 1012.26 L1392.5 1011.81 L1397.25 1011.57 L1402.25 1011.49 L1424.75 1011.97 L1434.75 1011.78 L1444 1010.93 L1464.5 1007.98 L1473.75 1007.01 L1483.75 1006.62 L1505.5 1006.76 L1515.25 1006.51 L1525.25 1005.67 L1545.5 1003.18 L1554.25 1002.31 L1565.5 1001.67 L1581 1001.3" stroke="#ff0000" stroke-width="3.9"/>
<path d="M280 1003.6 L294.25 1001.2 L299.5 1000.11 L304.5 998.89 L309.25 997.53 L313.75 996.03 L318.5 994.21 L323.25 992.19 L332.25 987.87 L342.5 982.32 L352 976.76 L374.25 963.3 L385.25 957.04 L390.75 954.14 L395.75 951.7 L400.5 949.58 L405 947.77 L410 946.02 L415 944.54 L420 943.33 L425 942.4 L430 941.76 L435 941.39 L440 941.3 L444.75 941.49 L450 942.01 L455.25 942.88 L460.25 944.05 L465.25 945.56 L470.25 947.43 L475 949.55 L480 952.12 L485.25 955.16 L490 958.17 L495 961.58 L500.25 965.39 L505.75 969.59 L516.5 978.24 L538.25 996.42 L548.5 1004.43 L553.75 1008.17 L559 1011.6 L564.25 1014.71 L569.75 1017.65 L576 1020.59 L582.25 1023.12 L588 1025.02 L593.25 1026.32 L598.25 1027.08 L603 1027.31 L607.75 1027.02 L612.5 1026.23 L617.75 1024.78 L623.25 1022.66 L628.75 1019.93 L634.5 1016.47 L640.5 1012.28 L646.75 1007.35 L653.5 1001.49 L660.25 995.13 L666.5 988.82 L673 981.82 L679.25 974.68 L685 967.67 L689.5 961.85 L694 955.69 L709.5 933.2 L713 928.55 L716.5 924.27 L721.25 918.95 L726.5 913.64 L732.5 908.14 L738.5 903.1 L743.75 899.25 L746.25 897.67 L748.75 896.28 L751 895.21 L753.5 894.23 L755.75 893.52 L758.25 892.94 L760.75 892.55 L763.25 892.36 L765.75 892.36 L768.5 892.57 L771 892.96 L773.5 893.54 L776 894.32 L778.5 895.3 L782.25 897.19 L785.75 899.4 L789.5 902.24 L793.25 905.53 L797.5 909.73 L801.75 914.38 L806.25 919.72 L810.25 924.93 L813.25 929.22 L816.25 933.9 L819 938.6 L821.75 943.72 L824.75 949.76 L827.75 956.22 L834.5 972.02 L841.5 989.8 L849.25 1010.77 L856.75 1032.15 L863 1051.29 L866.5 1062.8 L870.5 1076.69 L883.25 1123.49 L888.5 1141.89 L906.75 1202.55 L917.25 1235.72 L924.25 1258.85 L926.75 1266.74 L928.5 1271.82 L930.25 1276.43 L932 1280.47 L933.5 1283.42 L935 1285.85 L936.5 1287.66 L938 1288.78 L939.25 1289.11 L940.5 1288.87 L942 1287.89 L943.5 1286.26 L945.25 1283.7 L947.25 1280.09 L949 1276.42 L950.75 1272.21 L952.5 1267.4 L954.75 1260.24 L957.5 1250.17 L973 1187.86 L975 1180.2 L977 1173.17 L980.5 1162.39 L984.5 1151.71 L988.25 1143.02 L990 1139.54 L991.5 1136.9 L994 1133.17 L997 1129.55 L1000.5 1126.12 L1004 1123.33 L1007 1121.34 L1010.5 1119.37 L1021.5 1114.26 L1025 1112.46 L1028.5 1110.26 L1031.75 1107.71 L1035 1104.62 L1038.5 1100.83 L1055 1081.06 L1059.25 1076.23 L1062.75 1072.53 L1066.25 1069.19 L1069.5 1066.55 L1072.75 1064.43 L1076 1062.83 L1078.5 1061.89 L1081 1061.12 L1088 1059.52 L1096.75 1057.95 L1109.5 1056.25 L1113 1055.53 L1116 1054.66 L1119.25 1053.39 L1122.75 1051.61 L1134.5 1044.36 L1139.25 1041.78 L1142 1040.52 L1144.75 1039.45 L1147.5 1038.56 L1150.25 1037.84 L1155.25 1036.97 L1160.75 1036.61 L1166.5 1036.71 L1181.75 1037.57 L1186.5 1037.51 L1190.75 1037.12 L1194.5 1036.46 L1198.5 1035.46 L1212.5 1031.02 L1218.75 1029.27 L1224.75 1027.99 L1230.25 1027.28 L1234.75 1027.08 L1239.5 1027.21 L1244.75 1027.63 L1259.5 1029.17 L1264.25 1029.41 L1268.5 1029.38 L1272.25 1029.12 L1276.5 1028.6 L1297.75 1024.86 L1303.75 1024.04 L1309.25 1023.52 L1314.5 1023.29 L1320 1023.33 L1325.75 1023.6 L1341.75 1024.67 L1346.75 1024.82 L1351.25 1024.78 L1355.75 1024.53 L1361 1024.04 L1382.75 1021.32 L1387.5 1020.94 L1392 1020.75 L1401.25 1020.91 L1422 1022.33 L1431.25 1022.6 L1441 1022.28 L1462.75 1020.63 L1472.5 1020.2 L1482.5 1020.33 L1504.25 1021.47 L1514 1021.71 L1524.5 1021.38 L1546.75 1019.76 L1556.25 1019.33 L1566.75 1019.42 L1581 1020.2" stroke="#000000" stroke-width="3.9"/>
</g>
<path d="M280 1573.9 L310 1573.9 M335.7 1573.9 L365.6 1573.9 M385.7 1573.9 L415.1 1573.9 M435.3 1573.9 L465.5 1573.9 M482.9 1573.9 L511.9 1573.9 M532 1573.9 L561 1573.9 M581.2 1573.9 L611.5 1573.9 M631.7 1573.9 L661 1573.9 M677.2 1573.9 L707.5 1573.9 M727.6 1573.9 L756.6 1573.9 M776.8 1573.9 L806.2 1573.9 M826.4 1573.9 L855.4 1573.9 M873.6 1573.9 L902.2 1573.9 M923.1 1573.9 L952.2 1573.9 M970.3 1573.9 L1000.6 1573.9 M1020.7 1573.9 L1051 1573.9 M1069.1 1573.9 L1098.1 1573.9 M1118.3 1573.9 L1147.7 1573.9 M1167.9 1573.9 L1198.1 1573.9 M1218.3 1573.9 L1247.3 1573.9 M1264.6 1573.9 L1292.9 1573.9 M1313 1573.9 L1341.2 1573.9 M1363.4 1573.9 L1391.6 1573.9 M1411.8 1573.9 L1440 1573.9 M1458.2 1573.9 L1488.4 1573.9 M1508.6 1573.9 L1538.8 1573.9 M1559 1573.9 L1581 1573.9" fill="none" stroke="#000" stroke-width="3.8" shape-rendering="crispEdges"/>
<g fill="none" stroke-linejoin="round" stroke-linecap="round" shape-rendering="crispEdges">
<path d="M280 1508.9 L305.25 1506.68 L336 1503.64 L348.25 1502.65 L357 1502.16 L365.25 1501.92 L373.25 1501.9 L380.75 1502.1 L388 1502.52 L395.75 1503.19 L403.75 1504.11 L412.25 1505.31 L427.25 1507.87 L462 1514.51 L470.5 1515.93 L478.25 1517.04 L486.25 1517.92 L494 1518.46 L501.5 1518.66 L508.75 1518.52 L515.75 1518.05 L522.75 1517.23 L529.75 1516.08 L537 1514.53 L543.25 1512.98 L550.5 1510.98 L584.25 1501.02 L593 1498.73 L600.75 1496.97 L608 1495.61 L614.75 1494.66 L621.25 1494.07 L627.5 1493.87 L634.25 1494.09 L641 1494.81 L647.75 1496.04 L654.25 1497.72 L660 1499.68 L665.5 1502.08 L670.75 1504.94 L675.75 1508.28 L679.25 1510.96 L682.75 1513.9 L690.5 1521.11 L698.75 1529.62 L702.25 1533.54 L705.75 1537.73 L711 1544.63 L716.75 1553.04 L728 1570.46 L730.75 1575 L733.25 1579.46 L736.5 1585.8 L740 1593.14 L753.25 1622.07 L767 1651.26 L772.75 1664.27 L777 1674.66 L786.25 1698.15 L796.75 1724.33 L809.5 1756.99 L818.75 1779.97 L822 1788.57 L829.5 1809.27 L834 1820.85 L840 1835.01 L853 1864.36 L857 1872.91 L873.5 1905.64 L881.75 1920.04 L888 1931.22 L891.75 1937.3 L907 1958.19 L911.5 1963.8 L915 1967.65 L919.25 1971.91 L924 1976.33 L930.3 1981.9 L932 1981.9 L933.75 1981.37 L934.5 1980.95 L935.25 1980.31 L936.5 1978.61 L937.75 1976 L939.5 1971.16 L941.25 1965.25 L942.5 1960.14 L943.75 1953.92 L946 1939.62 L951 1902.32 L955 1871.8 L960.75 1825.11 L964.25 1798.33 L965.75 1787.87 L967.25 1779.9 L970.25 1768.28 L972 1760.15 L973.5 1751.8 L977 1729.97 L978.75 1720.73 L982 1706.17 L984.75 1695.32 L986.75 1689.05 L988.75 1684.31 L998 1665.96 L1005 1653.1 L1015 1631.29 L1018.25 1623.48 L1024.5 1606.88 L1027.5 1599.3 L1031 1591.3 L1035.75 1581.26 L1039.5 1574.23 L1041.25 1571.43 L1043.25 1568.6 L1045.25 1566.17 L1047.25 1564.1 L1049.25 1562.38 L1051.25 1560.98 L1053.25 1559.86 L1055.25 1558.96 L1063.75 1555.92 L1068.75 1553.91 L1073 1551.93 L1076.5 1550.03 L1079.5 1548.14 L1082.5 1545.97 L1092.25 1537.98 L1095.5 1535.47 L1098.75 1533.23 L1102 1531.33 L1105 1529.96 L1108 1528.99 L1111 1528.44 L1114.25 1528.29 L1116.75 1528.5 L1119.5 1529.02 L1128.5 1531.54 L1132.5 1532.5 L1136 1533.09 L1139.25 1533.39 L1143.25 1533.42 L1147.5 1533.09 L1151.25 1532.58 L1160 1531.06 L1164.25 1530.59 L1168.5 1530.58 L1172.75 1531.22 L1176.5 1532.27 L1180.5 1533.79 L1184.5 1535.63 L1193.25 1540.09 L1197.25 1542 L1202 1543.97 L1206.5 1545.49 L1211 1546.65 L1215.75 1547.51 L1220.25 1548.07 L1229 1548.91 L1233 1549.47 L1237 1550.35 L1241 1551.6 L1244.5 1552.99 L1248.25 1554.78 L1259.25 1560.99 L1263.5 1563.21 L1267.5 1564.98 L1271 1566.18 L1275 1567.12 L1279.25 1567.72 L1283.5 1568.04 L1294 1568.47 L1299.75 1569.15 L1304.75 1570.35 L1314.5 1573.61 L1318.75 1574.82 L1324.25 1575.97 L1330.5 1576.79 L1338 1577.26 L1345 1577.16 L1350.5 1576.66 L1362.5 1574.98 L1368.25 1574.63 L1374.25 1574.85 L1390 1576.18 L1394.75 1576.31 L1399 1576.19 L1403.25 1575.81 L1407.5 1575.13 L1412.25 1574.11 L1426.75 1570.59 L1431.5 1569.7 L1435.75 1569.16 L1440.25 1568.93 L1445 1569.02 L1449.75 1569.37 L1460.5 1570.47 L1466.5 1570.65 L1469 1570.5 L1472 1570.15 L1484.5 1568.08 L1488 1567.75 L1491.5 1567.63 L1496.5 1567.74 L1502 1568.22 L1507 1568.89 L1524.25 1571.59 L1531.25 1572.41 L1538 1573.01 L1546 1573.49 L1555.5 1573.86 L1581 1574.3" stroke="#00ff00" stroke-width="3.75"/>
<path d="M280 1536 L295.5 1538.86 L301.25 1539.67 L306.75 1540.24 L313 1540.64 L319.25 1540.79 L325.75 1540.72 L332.75 1540.41 L339.5 1539.91 L346.5 1539.22 L361.5 1537.22 L375.5 1534.87 L405.5 1529.24 L413.5 1527.94 L420.75 1526.94 L429.5 1526.02 L437.75 1525.48 L445.75 1525.29 L453.5 1525.48 L461.5 1526.14 L469 1527.3 L476 1528.96 L483 1531.2 L491 1534.43 L499.5 1538.51 L507.5 1542.95 L514.75 1547.59 L518.75 1550.45 L522.75 1553.57 L526.75 1556.92 L530.75 1560.52 L534.75 1564.34 L539 1568.63 L547.5 1577.9 L555.5 1587.48 L563 1597.33 L570.25 1607.74 L578.5 1620.53 L590.5 1640.17 L601.75 1659.27 L611.25 1676.14 L619.75 1692.06 L625.75 1703.94 L631.25 1715.4 L649.25 1755.36 L656.25 1770.22 L680.75 1819.1 L686.5 1830.02 L692.5 1840.8 L697.75 1849.75 L720 1886.76 L726 1896.04 L739.5 1916.06 L746.5 1926.1 L753.25 1935.02 L761.75 1945.38 L769 1953.48 L772.25 1956.78 L775.5 1959.83 L778.75 1962.65 L782 1965.25 L785.5 1967.81 L789 1970.15 L792.5 1972.27 L795.75 1974.02 L799.5 1975.79 L803.5 1977.4 L820 1983.11 L827.5 1985.36 L835 1987 L841.75 1988.03 L848.75 1988.74 L854.75 1988.99 L861 1988.86 L866.75 1988.47 L875.5 1987.66 L928 1982.3 L930.3 1981.9 L932.3 1981.26 L933.05 1980.8 L933.8 1980.12 L935.05 1978.37 L936.55 1975.15 L938.55 1969.43 L940.3 1963.31 L941.8 1956.81 L943.05 1950.21 L945.05 1937.08 L952.8 1878.78 L958.55 1832.13 L964.05 1790.35 L965.8 1779.05 L969.05 1761.11 L970.55 1752.07 L975.05 1719.27 L976.55 1709.3 L978.3 1699.71 L980.3 1691.26 L981.55 1687.15 L983.3 1682.42 L990.55 1665.08 L994.05 1657.19 L998.05 1649.09 L1000.8 1644.07 L1006.8 1633.64 L1008.55 1630.28 L1010.3 1626.53 L1013.05 1619.87 L1019.8 1602.1 L1023.3 1593.3 L1029.55 1578.64 L1033.55 1569.96 L1035.8 1565.58 L1038.05 1561.59 L1040.3 1558 L1042.55 1554.82 L1044.8 1552.05 L1046.8 1549.93 L1049.05 1547.95 L1051.3 1546.34 L1053.8 1544.94 L1056.55 1543.76 L1059.55 1542.78 L1068.3 1540.34 L1071.05 1539.26 L1073.55 1537.96 L1076.55 1536 L1080.05 1533.3 L1091.55 1523.11 L1096.3 1519.29 L1098.8 1517.58 L1101.05 1516.28 L1103.55 1515.07 L1106.05 1514.12 L1108.3 1513.45 L1110.8 1512.91 L1113.3 1512.57 L1115.8 1512.4 L1120.55 1512.42 L1133.3 1513.1 L1137.05 1513.03 L1140.3 1512.73 L1143.3 1512.19 L1146.3 1511.41 L1158.05 1507.39 L1163.55 1505.84 L1166.55 1505.24 L1169.3 1504.88 L1172.05 1504.71 L1174.55 1504.74 L1178.05 1505.08 L1182.05 1505.82 L1186.05 1506.83 L1197.05 1510.05 L1200.55 1510.79 L1204.05 1511.26 L1208.3 1511.49 L1213.05 1511.43 L1227.05 1510.31 L1231.3 1510.12 L1235.55 1510.28 L1239.55 1510.9 L1243.05 1511.87 L1246.8 1513.27 L1257.8 1518.36 L1260.55 1519.52 L1263.55 1520.55 L1266.55 1521.37 L1270.8 1522.24 L1276.05 1523 L1297.3 1525.19 L1301.3 1525.88 L1305.05 1526.81 L1307.8 1527.7 L1310.8 1528.87 L1326.3 1536 L1330.55 1537.73 L1334.55 1539.13 L1338.8 1540.32 L1343.55 1541.3 L1348.3 1541.98 L1359.3 1543.18 L1362.55 1543.73 L1365.55 1544.44 L1369.05 1545.51 L1372.8 1546.89 L1389.55 1553.82 L1393.3 1555.13 L1397.05 1556.22 L1401.8 1557.32 L1406.8 1558.2 L1424.05 1560.2 L1431.05 1561.35 L1438.3 1563.11 L1454.8 1567.81 L1459.05 1568.83 L1463.05 1569.59 L1468.55 1570.31 L1473.8 1570.6 L1478.05 1570.54 L1488.55 1569.96 L1494.05 1570.1 L1499.55 1570.82 L1510.3 1572.91 L1515.3 1573.74 L1520.8 1574.38 L1525.8 1574.68 L1529.3 1574.68 L1533.05 1574.52 L1547.8 1573.2 L1556.3 1572.73 L1566.8 1572.56 L1581 1572.7" stroke="#0000ff" stroke-width="3.75"/>
<path d="M345.05 1978.7 L345.05 1998 M410.1 1978.7 L410.1 1998 M475.15 1978.7 L475.15 1998 M540.2 1978.7 L540.2 1998 M605.25 1961 L605.25 1998 M670.3 1978.7 L670.3 1998 M735.35 1978.7 L735.35 1998 M800.4 1978.7 L800.4 1998 M865.45 1978.7 L865.45 1998 M930.5 1961 L930.5 1998 M995.55 1978.7 L995.55 1998 M1060.6 1978.7 L1060.6 1998 M1125.65 1978.7 L1125.65 1998 M1190.7 1978.7 L1190.7 1998 M1255.75 1961 L1255.75 1998 M1320.8 1978.7 L1320.8 1998 M1385.85 1978.7 L1385.85 1998 M1450.9 1978.7 L1450.9 1998 M1515.95 1978.7 L1515.95 1998" fill="none" stroke="#000" stroke-linecap="butt" stroke-width="3.5" shape-rendering="crispEdges"/>
<path d="M279 1927.2 L300.25 1931.36 L316 1933.99 L333.75 1936.36 L352.25 1938.24 L365.75 1939.23 L379 1939.87 L390.25 1940.13 L423.5 1940.54 L436.25 1940.94 L449 1941.55 L463.5 1942.48 L478.25 1943.69 L493.75 1945.2 L509.25 1946.95 L533 1950.11 L556.5 1953.83 L570.75 1956.38 L606.5 1963.11 L654.5 1971.79 L666.5 1973.85 L683.25 1976.31 L699.75 1978.07 L713.75 1979.17 L728.25 1980.03 L743.25 1980.65 L759.75 1981.07 L790.75 1981.39 L887 1981.6 M931.1 1981.9 L933.1 1981.26 L933.85 1980.8 L934.6 1980.12 L935.85 1978.37 L937.35 1975.15 L939.35 1969.43 L941.1 1963.31 L942.6 1956.81 L943.85 1950.21 L945.85 1937.08 L953.6 1878.78 L959.35 1832.13 L964.85 1790.35 L966.6 1779.05 L969.85 1761.11 L971.35 1752.07 L975.85 1719.27 L977.35 1709.3 L979.1 1699.71 L981.1 1691.26 L982.35 1687.15 L984.1 1682.42 L991.35 1665.08 L994.85 1657.19 L998.85 1649.09 L1001.6 1644.07 L1007.6 1633.64 L1009.35 1630.28 L1011.1 1626.53 L1013.85 1619.86 L1020.85 1601.46 L1024.6 1592.08 L1030.35 1578.7 L1035.85 1566.74 L1039.6 1559.58 L1041.35 1556.73 L1043.35 1553.86 L1045.35 1551.35 L1047.35 1549.14 L1049.6 1546.98 L1051.85 1545.13 L1054.35 1543.38 L1057.1 1541.75 L1060.1 1540.23 L1069.6 1535.84 L1072.6 1534.13 L1075.35 1532.29 L1079.1 1529.33 L1082.85 1525.89 L1085.85 1522.8 L1093.35 1514.6 L1097.1 1510.99 L1099.1 1509.4 L1101.35 1507.93 L1103.6 1506.75 L1106.1 1505.71 L1110.85 1504.29 L1116.1 1503.23 L1121.35 1502.59 L1132.1 1501.81 L1135.35 1501.31 L1138.1 1500.64 L1141.1 1499.62 L1144.35 1498.22 L1156.6 1491.97 L1161.85 1489.54 L1166.6 1487.73 L1171.1 1486.52 L1175.6 1485.81 L1180.35 1485.51 L1185.1 1485.58 L1197.6 1486.26 L1201.35 1486.2 L1204.6 1485.92 L1208.1 1485.34 L1212.1 1484.4 L1224.85 1480.6 L1229.35 1479.38 L1233.35 1478.52 L1237.1 1477.97 L1240.85 1477.73 L1245.1 1477.83 L1249.6 1478.23 L1262.85 1479.8 L1267.35 1480.05 L1271.6 1480.01 L1275.1 1479.73 L1278.85 1479.17 L1291.1 1476.52 L1295.6 1475.69 L1299.85 1475.16 L1303.85 1474.97 L1306.85 1475.06 L1310.35 1475.42 L1324.6 1477.72 L1328.1 1478.03 L1331.6 1478.17 L1335.85 1478.13 L1340.35 1477.91 L1359.35 1476.13 L1367.85 1475.71 L1372.35 1475.79 L1376.6 1476.13 L1380.85 1476.74 L1392.1 1478.69 L1395.6 1479.09 L1398.6 1479.26 L1401.85 1479.24 L1405.6 1479.02 L1417.35 1477.75 L1422.1 1477.36 L1426.85 1477.16 L1431.35 1477.18 L1435.85 1477.43 L1440.35 1477.93 L1456.85 1480.87 L1463.85 1481.73 L1470.85 1481.91 L1488.6 1481.15 L1493.35 1481.12 L1497.85 1481.27 L1501.85 1481.58 L1505.85 1482.08 L1522.1 1485.01 L1529.35 1485.93 L1536.85 1486.23 L1552.85 1485.98 L1561.35 1486.13 L1569.85 1486.73 L1581 1488.1" stroke="#ff0000" stroke-width="3.5"/>
<path d="M280 1982.5 L931 1982.5" stroke="#000000" stroke-width="3" stroke-linecap="butt"/>
<path d="M930.4 1981.9 L932.4 1981.26 L933.15 1980.8 L933.9 1980.12 L935.15 1978.37 L936.65 1975.15 L938.65 1969.43 L940.4 1963.31 L941.9 1956.81 L943.15 1950.21 L945.15 1937.08 L952.9 1878.78 L958.65 1832.13 L964.15 1790.35 L965.9 1779.05 L969.15 1761.11 L970.65 1752.07 L975.15 1719.27 L976.65 1709.3 L978.4 1699.71 L980.4 1691.26 L981.65 1687.15 L983.4 1682.42 L990.65 1665.08 L994.15 1657.19 L998.15 1649.09 L1000.9 1644.07 L1006.9 1633.64 L1008.65 1630.28 L1010.4 1626.53 L1013.15 1619.86 L1020.15 1601.46 L1023.9 1592.08 L1029.65 1578.7 L1034.9 1567.26 L1038.65 1560.01 L1040.4 1557.12 L1042.15 1554.55 L1044.15 1551.95 L1046.15 1549.67 L1048.15 1547.66 L1050.4 1545.71 L1052.65 1544.05 L1055.4 1542.35 L1065.15 1537.32 L1069.4 1534.93 L1072.9 1532.69 L1076.4 1530.13 L1080.4 1526.8 L1084.4 1523.01 L1087.9 1519.33 L1096.15 1510.23 L1100.65 1505.73 L1103.15 1503.56 L1105.4 1501.86 L1107.65 1500.44 L1109.9 1499.34 L1112.4 1498.49 L1115.15 1497.92 L1118.15 1497.6 L1125.4 1497.26 L1129.65 1496.89 L1133.9 1496.22 L1137.9 1495.2 L1141.4 1493.95 L1145.4 1492.19 L1158.65 1485.36 L1163.65 1482.98 L1168.65 1481.02 L1173.15 1479.7 L1176.9 1478.98 L1180.65 1478.64 L1184.9 1478.6 L1197.15 1478.99 L1200.9 1478.79 L1204.9 1478.26 L1208.65 1477.49 L1212.9 1476.35 L1217.4 1474.9 L1229.4 1470.65 L1233.15 1469.58 L1236.65 1468.84 L1240.9 1468.37 L1245.65 1468.32 L1250.65 1468.64 L1264.15 1469.98 L1268.15 1470.12 L1271.9 1470 L1275.9 1469.56 L1280.15 1468.75 L1284.15 1467.67 L1292.4 1464.96 L1295.65 1464.23 L1298.9 1463.76 L1302.9 1463.51 L1306.9 1463.55 L1311.15 1463.87 L1324.4 1465.3 L1328.9 1465.45 L1333.4 1465.34 L1337.9 1464.95 L1342.65 1464.28 L1356.15 1461.46 L1360.4 1460.7 L1364.15 1460.24 L1368.15 1459.98 L1372.4 1459.96 L1376.9 1460.17 L1381.15 1460.57 L1392.15 1461.91 L1395.65 1462.16 L1398.65 1462.2 L1402.4 1462.03 L1406.4 1461.61 L1424.9 1458.57 L1429.15 1458.06 L1433.15 1457.82 L1436.4 1457.83 L1439.9 1458.04 L1454.9 1459.63 L1462.9 1459.88 L1470.9 1459.57 L1486.9 1458.12 L1494.65 1457.72 L1499.9 1457.68 L1505.15 1457.8 L1521.65 1458.83 L1528.4 1459 L1534.65 1458.76 L1548.9 1457.63 L1557.9 1457.15 L1567.65 1456.94 L1581 1457" stroke="#000000" stroke-width="3.45"/>
</g>
<g>
<text><tspan x="163.24" y="65.4" font-size="59.4" textLength="32.33" lengthAdjust="spacingAndGlyphs">0</tspan><tspan x="197.17" y="65.4" font-size="59.4" textLength="15.65" lengthAdjust="spacingAndGlyphs">.</tspan><tspan x="214.18" y="65.4" font-size="59.4" textLength="32.77" lengthAdjust="spacingAndGlyphs">6</tspan></text>
<text><tspan x="128.84" y="236.63" font-size="59.4" textLength="32.33" lengthAdjust="spacingAndGlyphs">0</tspan><tspan x="162.77" y="236.63" font-size="59.4" textLength="15.65" lengthAdjust="spacingAndGlyphs">.</tspan><tspan x="178.73" y="236.63" font-size="59.4" textLength="34.14" lengthAdjust="spacingAndGlyphs">5</tspan><tspan x="212.96" y="236.63" font-size="59.4" textLength="34.76" lengthAdjust="spacingAndGlyphs">5</tspan></text>
<text><tspan x="163.24" y="407.86" font-size="59.4" textLength="32.33" lengthAdjust="spacingAndGlyphs">0</tspan><tspan x="197.17" y="407.86" font-size="59.4" textLength="15.65" lengthAdjust="spacingAndGlyphs">.</tspan><tspan x="212.96" y="407.86" font-size="59.4" textLength="34.76" lengthAdjust="spacingAndGlyphs">5</tspan></text>
<text><tspan x="128.84" y="579.08" font-size="59.4" textLength="32.33" lengthAdjust="spacingAndGlyphs">0</tspan><tspan x="162.77" y="579.08" font-size="59.4" textLength="15.65" lengthAdjust="spacingAndGlyphs">.</tspan><tspan x="180.47" y="579.08" font-size="59.4" textLength="31.51" lengthAdjust="spacingAndGlyphs">4</tspan><tspan x="212.96" y="579.08" font-size="59.4" textLength="34.76" lengthAdjust="spacingAndGlyphs">5</tspan></text>
<text><tspan x="163.24" y="716.07" font-size="59.4" textLength="32.33" lengthAdjust="spacingAndGlyphs">0</tspan><tspan x="197.17" y="716.07" font-size="59.4" textLength="15.65" lengthAdjust="spacingAndGlyphs">.</tspan><tspan x="214.18" y="716.07" font-size="59.4" textLength="32.77" lengthAdjust="spacingAndGlyphs">6</tspan></text>
<text><tspan x="128.84" y="817.73" font-size="59.4" textLength="32.33" lengthAdjust="spacingAndGlyphs">0</tspan><tspan x="162.77" y="817.73" font-size="59.4" textLength="15.65" lengthAdjust="spacingAndGlyphs">.</tspan><tspan x="178.73" y="817.73" font-size="59.4" textLength="34.14" lengthAdjust="spacingAndGlyphs">5</tspan><tspan x="212.96" y="817.73" font-size="59.4" textLength="34.76" lengthAdjust="spacingAndGlyphs">5</tspan></text>
<text><tspan x="163.24" y="919.4" font-size="59.4" textLength="32.33" lengthAdjust="spacingAndGlyphs">0</tspan><tspan x="197.17" y="919.4" font-size="59.4" textLength="15.65" lengthAdjust="spacingAndGlyphs">.</tspan><tspan x="212.96" y="919.4" font-size="59.4" textLength="34.76" lengthAdjust="spacingAndGlyphs">5</tspan></text>
<text><tspan x="128.84" y="1021.07" font-size="59.4" textLength="32.33" lengthAdjust="spacingAndGlyphs">0</tspan><tspan x="162.77" y="1021.07" font-size="59.4" textLength="15.65" lengthAdjust="spacingAndGlyphs">.</tspan><tspan x="180.47" y="1021.07" font-size="59.4" textLength="31.51" lengthAdjust="spacingAndGlyphs">4</tspan><tspan x="212.96" y="1021.07" font-size="59.4" textLength="34.76" lengthAdjust="spacingAndGlyphs">5</tspan></text>
<text><tspan x="163.24" y="1122.73" font-size="59.4" textLength="32.33" lengthAdjust="spacingAndGlyphs">0</tspan><tspan x="197.17" y="1122.73" font-size="59.4" textLength="15.65" lengthAdjust="spacingAndGlyphs">.</tspan><tspan x="214.75" y="1122.73" font-size="59.4" textLength="32.05" lengthAdjust="spacingAndGlyphs">4</tspan></text>
<text><tspan x="128.84" y="1224.4" font-size="59.4" textLength="32.33" lengthAdjust="spacingAndGlyphs">0</tspan><tspan x="162.77" y="1224.4" font-size="59.4" textLength="15.65" lengthAdjust="spacingAndGlyphs">.</tspan><tspan x="179.51" y="1224.4" font-size="59.4" textLength="33.29" lengthAdjust="spacingAndGlyphs">3</tspan><tspan x="212.96" y="1224.4" font-size="59.4" textLength="34.76" lengthAdjust="spacingAndGlyphs">5</tspan></text>
<text><tspan x="163.24" y="1326.07" font-size="59.4" textLength="32.33" lengthAdjust="spacingAndGlyphs">0</tspan><tspan x="197.17" y="1326.07" font-size="59.4" textLength="15.65" lengthAdjust="spacingAndGlyphs">.</tspan><tspan x="213.75" y="1326.07" font-size="59.4" textLength="33.9" lengthAdjust="spacingAndGlyphs">3</tspan></text>
<text><tspan x="128.84" y="1451.6" font-size="59.4" textLength="32.33" lengthAdjust="spacingAndGlyphs">0</tspan><tspan x="162.77" y="1451.6" font-size="59.4" textLength="15.65" lengthAdjust="spacingAndGlyphs">.</tspan><tspan x="178.73" y="1451.6" font-size="59.4" textLength="34.14" lengthAdjust="spacingAndGlyphs">5</tspan><tspan x="212.96" y="1451.6" font-size="59.4" textLength="34.76" lengthAdjust="spacingAndGlyphs">5</tspan></text>
<text><tspan x="163.24" y="1593.05" font-size="59.4" textLength="32.33" lengthAdjust="spacingAndGlyphs">0</tspan><tspan x="197.17" y="1593.05" font-size="59.4" textLength="15.65" lengthAdjust="spacingAndGlyphs">.</tspan><tspan x="212.96" y="1593.05" font-size="59.4" textLength="34.76" lengthAdjust="spacingAndGlyphs">5</tspan></text>
<text><tspan x="128.84" y="1734.5" font-size="59.4" textLength="32.33" lengthAdjust="spacingAndGlyphs">0</tspan><tspan x="162.77" y="1734.5" font-size="59.4" textLength="15.65" lengthAdjust="spacingAndGlyphs">.</tspan><tspan x="180.47" y="1734.5" font-size="59.4" textLength="31.51" lengthAdjust="spacingAndGlyphs">4</tspan><tspan x="212.96" y="1734.5" font-size="59.4" textLength="34.76" lengthAdjust="spacingAndGlyphs">5</tspan></text>
<text><tspan x="163.24" y="1875.95" font-size="59.4" textLength="32.33" lengthAdjust="spacingAndGlyphs">0</tspan><tspan x="197.17" y="1875.95" font-size="59.4" textLength="15.65" lengthAdjust="spacingAndGlyphs">.</tspan><tspan x="214.75" y="1875.95" font-size="59.4" textLength="32.05" lengthAdjust="spacingAndGlyphs">4</tspan></text>
<text><tspan x="128.84" y="2017.4" font-size="59.4" textLength="32.33" lengthAdjust="spacingAndGlyphs">0</tspan><tspan x="162.77" y="2017.4" font-size="59.4" textLength="15.65" lengthAdjust="spacingAndGlyphs">.</tspan><tspan x="179.51" y="2017.4" font-size="59.4" textLength="33.29" lengthAdjust="spacingAndGlyphs">3</tspan><tspan x="212.96" y="2017.4" font-size="59.4" textLength="34.76" lengthAdjust="spacingAndGlyphs">5</tspan></text>
<text><tspan x="225.46" y="2071.41" font-size="66" textLength="38.91" lengthAdjust="spacingAndGlyphs">−</tspan><tspan x="272.58" y="2066.4" font-size="60.4" textLength="24.57" lengthAdjust="spacingAndGlyphs">1</tspan><tspan x="302.42" y="2065.9" font-size="59.4" textLength="32.56" lengthAdjust="spacingAndGlyphs">0</tspan></text>
<text><tspan x="568.56" y="2071.41" font-size="66" textLength="37.82" lengthAdjust="spacingAndGlyphs">−</tspan><tspan x="609.53" y="2065.9" font-size="59.4" textLength="34.14" lengthAdjust="spacingAndGlyphs">5</tspan></text>
<text><tspan x="913.48" y="2065.9" font-size="59.4" textLength="33.03" lengthAdjust="spacingAndGlyphs">0</tspan></text>
<text><tspan x="1237.63" y="2065.9" font-size="59.4" textLength="34.14" lengthAdjust="spacingAndGlyphs">5</tspan></text>
<text><tspan x="1551.13" y="2066.4" font-size="60.4" textLength="24.86" lengthAdjust="spacingAndGlyphs">1</tspan><tspan x="1581.48" y="2065.9" font-size="59.4" textLength="33.03" lengthAdjust="spacingAndGlyphs">0</tspan></text>
<text><tspan x="895.31" y="2114.13" font-size="58.72" textLength="34.26" lengthAdjust="spacingAndGlyphs" stroke="#000" stroke-width="0.9" stroke-linejoin="round">Q</tspan><tspan x="934.95" y="2114.55" font-size="59.26" textLength="28.39" lengthAdjust="spacingAndGlyphs" stroke="#000" stroke-width="0.9" stroke-linejoin="round">x</tspan></text>
<text transform="translate(86.3 1117) rotate(-90)"><tspan x="-1.59" y="0" font-size="58.36" textLength="34.74" lengthAdjust="spacingAndGlyphs">n</tspan><tspan x="37.39" y="-1.79" font-size="64.3" textLength="19.83" lengthAdjust="spacingAndGlyphs">(</tspan><tspan x="61.95" y="-0.45" font-size="57.95" textLength="28.39" lengthAdjust="spacingAndGlyphs" stroke="#000" stroke-width="0.9" stroke-linejoin="round">x</tspan><tspan x="94.87" y="-1.79" font-size="64.3" textLength="19.96" lengthAdjust="spacingAndGlyphs">)</tspan><tspan x="121" y="11.06" font-size="85.8" textLength="30" lengthAdjust="spacingAndGlyphs">/</tspan><tspan x="156.51" y="-0.95" font-size="57.39" textLength="34.26" lengthAdjust="spacingAndGlyphs" stroke="#000" stroke-width="0.9" stroke-linejoin="round">Q</tspan></text>
</g>
</svg></body></html>
